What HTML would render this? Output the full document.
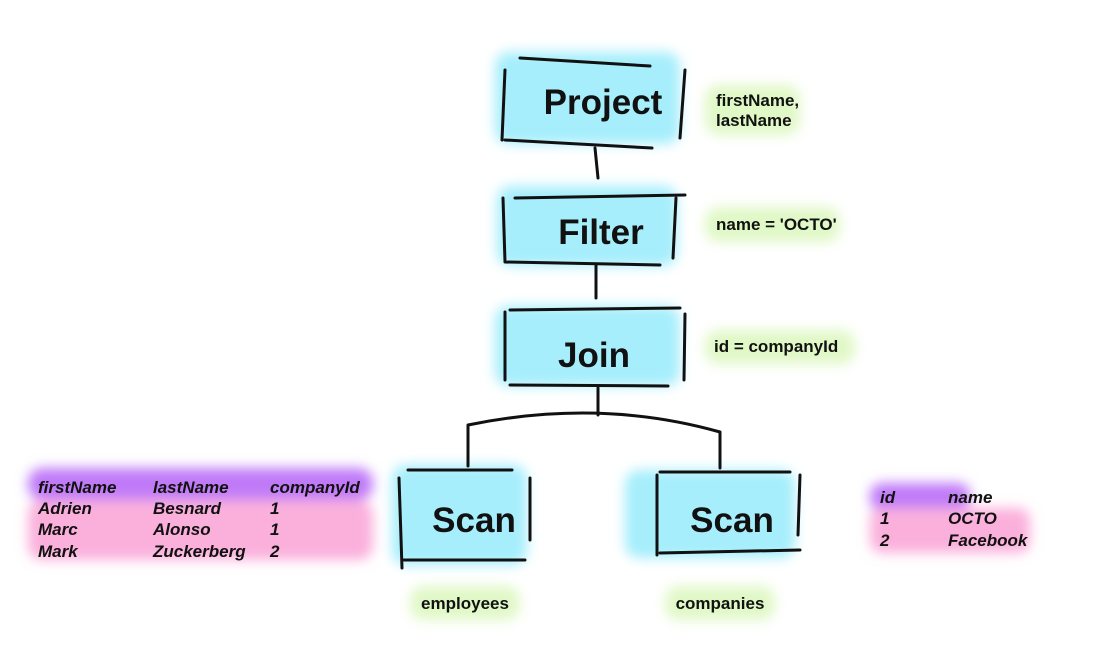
<!DOCTYPE html>
<html><head><style>
html,body{margin:0;padding:0;background:#fff;width:1112px;height:653px;overflow:hidden}
text{font-family:"Liberation Sans",sans-serif;font-weight:bold;fill:#111}
.big{font-size:35px}
.lbl{font-size:17px}
.tb{font-size:17px;font-style:italic}
</style></head><body>
<svg width="1112" height="653" viewBox="0 0 1112 653" xmlns="http://www.w3.org/2000/svg">
<defs><filter id="b" x="-20%" y="-40%" width="140%" height="180%"><feGaussianBlur stdDeviation="6"/></filter></defs>
<g filter="url(#b)">
<rect x="495" y="52" width="185" height="92" rx="14" fill="#a6eefc"/>
<rect x="497" y="186" width="180" height="80" rx="14" fill="#a6eefc"/>
<rect x="495" y="306" width="185" height="80" rx="14" fill="#a6eefc"/>
<rect x="392" y="465" width="135" height="100" rx="14" fill="#a6eefc"/>
<rect x="625" y="470" width="170" height="88" rx="14" fill="#a6eefc"/>
<rect x="705" y="85" width="95" height="50" rx="14" fill="#e0f8c6"/>
<rect x="705" y="207" width="135" height="35" rx="14" fill="#e0f8c6"/>
<rect x="705" y="330" width="150" height="34" rx="14" fill="#e0f8c6"/>
<rect x="410" y="586" width="110" height="34" rx="14" fill="#e0f8c6"/>
<rect x="665" y="586" width="110" height="34" rx="14" fill="#e0f8c6"/>
<rect x="28" y="468" width="345" height="32" rx="14" fill="#c07af8"/>
<rect x="28" y="500" width="345" height="60" rx="14" fill="#fbb0dc"/>
<rect x="870" y="483" width="100" height="28" rx="12" fill="#c07af8"/>
<rect x="870" y="508" width="160" height="45" rx="12" fill="#fbb0dc"/>
</g>
<g stroke="#111" stroke-width="3" fill="none" stroke-linecap="round">
<path d="M520 58 L650 66 M505 70 L502 140 M505 140 L652 148 M685 70 L680 138"/>
<path d="M515 198 L685 195 M503 198 L505 262 M505 262 L660 265 M676 198 L673 258"/>
<path d="M510 310 L680 308 M505 312 L505 380 M510 385 L668 386 M685 314 L684 380"/>
<path d="M408 470 L512 470 M399 478 L402 568 M404 560 L525 560 M530 478 L530 540"/>
<path d="M660 472 L790 472 M657 475 L657 555 M660 553 L800 550 M800 475 L798 535"/>
<path d="M595 148 L598 178 M596 265 L596 298 M598 388 L598 415"/>
<path d="M468 425 Q600 398 720 432 M468 425 L468 466 M720 432 L720 468"/>
</g>
<text class="big" x="603" y="114" text-anchor="middle">Project</text>
<text class="big" x="601" y="244" text-anchor="middle">Filter</text>
<text class="big" x="594" y="367" text-anchor="middle">Join</text>
<text class="big" x="474" y="532" text-anchor="middle">Scan</text>
<text class="big" x="732" y="532" text-anchor="middle">Scan</text>
<text class="lbl" x="716" y="106">firstName,</text>
<text class="lbl" x="716" y="126">lastName</text>
<text class="lbl" x="716" y="230">name = 'OCTO'</text>
<text class="lbl" x="714" y="352">id = companyId</text>
<text class="lbl" x="465" y="609" text-anchor="middle">employees</text>
<text class="lbl" x="720" y="609" text-anchor="middle">companies</text>
<g class="tb">
<text class="tb" x="38" y="493">firstName</text><text class="tb" x="153" y="493">lastName</text><text class="tb" x="270" y="493">companyId</text>
<text class="tb" x="38" y="514">Adrien</text><text class="tb" x="153" y="514">Besnard</text><text class="tb" x="270" y="514">1</text>
<text class="tb" x="38" y="535">Marc</text><text class="tb" x="153" y="535">Alonso</text><text class="tb" x="270" y="535">1</text>
<text class="tb" x="38" y="557">Mark</text><text class="tb" x="153" y="557">Zuckerberg</text><text class="tb" x="270" y="557">2</text>
<text class="tb" x="880" y="503">id</text><text class="tb" x="948" y="503">name</text>
<text class="tb" x="880" y="524">1</text><text class="tb" x="948" y="524">OCTO</text>
<text class="tb" x="880" y="546">2</text><text class="tb" x="948" y="546">Facebook</text>
</g>
</svg>
</body></html>
